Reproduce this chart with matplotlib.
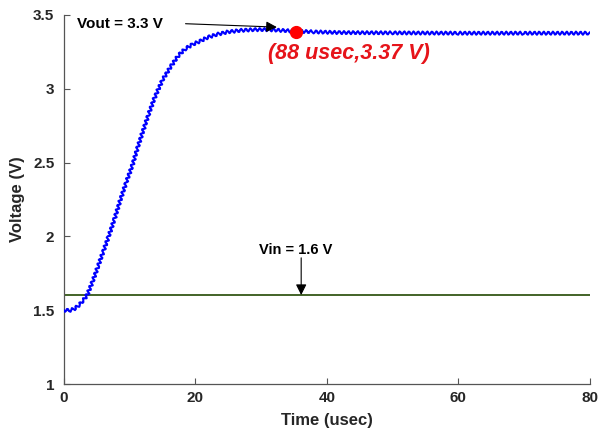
import matplotlib
matplotlib.use("Agg")
import matplotlib.pyplot as plt

# Vout envelope (usec, V)
time_us = [0, 1.0, 1.6, 2.4, 3.0, 3.6, 4.4, 5.2, 6.0, 6.8, 7.7, 8.6, 9.5,
           10.4, 11.2, 12.0, 12.9, 13.8, 15.0, 16.4, 17.5, 18.6, 19.6,
           20.6, 22.0, 23.5, 25.0, 27.0, 29.0, 31.0, 33.0, 35.0, 38.0,
           42.0, 50.0, 60.0, 70.0, 80.0]
vout = [1.5, 1.5, 1.51, 1.54, 1.57, 1.61, 1.70, 1.80, 1.90, 2.00, 2.12,
        2.25, 2.37, 2.48, 2.60, 2.71, 2.83, 2.94, 3.06, 3.16, 3.23, 3.275,
        3.30, 3.32, 3.35, 3.37, 3.385, 3.395, 3.40, 3.40, 3.395, 3.39,
        3.385, 3.38, 3.378, 3.376, 3.376, 3.376]

vin_level = 1.6
vin_t = [0, 80]

marker_t, marker_v = 35.3, 3.387

plt.rcParams['font.family'] = ['Liberation Sans', 'DejaVu Sans']

fig = plt.figure(figsize=(5.98, 4.37), dpi=100)
ax = fig.add_axes([0.107, 0.121, 0.879, 0.845])

# green Vin line
ax.plot(vin_t, [vin_level, vin_level], color='#426328', lw=1.4, zorder=2)

# blue Vout with switching ripple drawn as a regular wiggle
line, = ax.plot(time_us, vout, color='#0000ff', lw=1.5, zorder=3)
line.set_sketch_params(scale=1.6, length=4.6, randomness=1.0)

ax.plot(marker_t, marker_v, 'o', color='#ff0000', ms=8.5, zorder=5)

ax.set_xlim(0, 80)
ax.set_ylim(1, 3.5)
ax.set_xticks([0, 20, 40, 60, 80])
ax.set_yticks([1, 1.5, 2, 2.5, 3, 3.5])
ax.set_yticklabels(['1', '1.5', '2', '2.5', '3', '3.5'])

for s in ['top', 'right']:
    ax.spines[s].set_visible(False)
for s in ['left', 'bottom']:
    ax.spines[s].set_color('#555555')
    ax.spines[s].set_linewidth(0.9)
ax.tick_params(direction='in', length=4, width=0.8, color='#555555',
               labelsize=11, labelcolor='#262626')
ax.tick_params(axis='x', pad=5)
ax.tick_params(axis='y', pad=7)
for lab in ax.get_xticklabels() + ax.get_yticklabels():
    lab.set_fontweight('bold')

ax.set_xlabel('Time (usec)', fontsize=12, fontweight='bold', color='#262626', labelpad=6)
ax.set_ylabel('Voltage (V)', fontsize=12, fontweight='bold', color='#262626', labelpad=6)

# annotations
ax.text(2.0, 3.44, 'Vout = 3.3 V', fontsize=11, fontweight='bold',
        ha='left', va='center', color='black')
ax.annotate('', xy=(32.4, 3.417), xytext=(18.5, 3.44),
            arrowprops=dict(arrowstyle='-|>', color='black', lw=0.8,
                            mutation_scale=16, shrinkA=0, shrinkB=0))

ax.text(31.0, 3.24, '(88 usec,3.37 V)', fontsize=15.5, fontweight='bold',
        fontstyle='italic', color='#e6141a', ha='left', va='center')

ax.text(35.3, 1.91, 'Vin = 1.6 V', fontsize=10.5, fontweight='bold',
        ha='center', va='center', color='black')
ax.annotate('', xy=(36.1, 1.603), xytext=(36.1, 1.855),
            arrowprops=dict(arrowstyle='-|>', color='black', lw=0.8,
                            mutation_scale=16, shrinkA=0, shrinkB=0))

fig.savefig('out.png', dpi=100)
